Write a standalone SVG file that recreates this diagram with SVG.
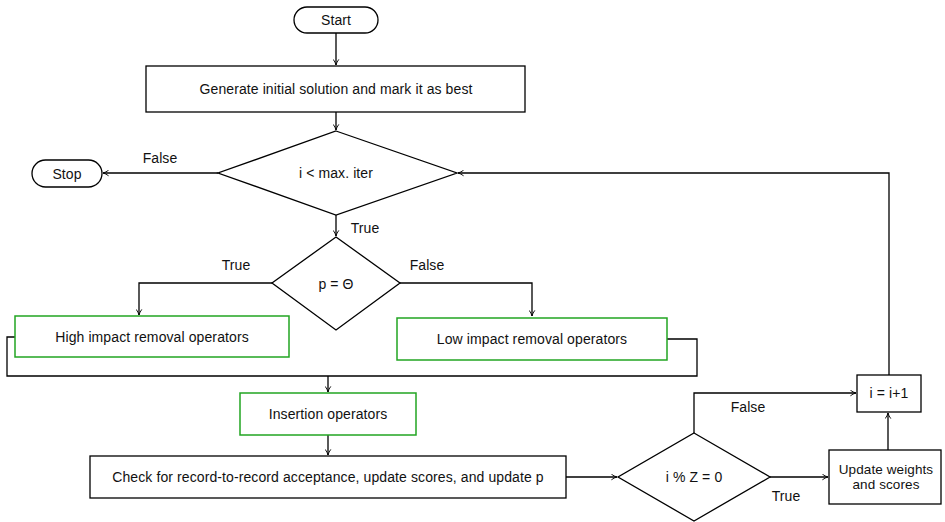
<svg xmlns="http://www.w3.org/2000/svg" width="945" height="522" viewBox="0 0 945 522">
<style>
text{font-family:"Liberation Sans","DejaVu Sans",sans-serif;font-size:14px;letter-spacing:0.1px;fill:#111;text-anchor:middle;dominant-baseline:central}
.n{fill:#fff;stroke:#000;stroke-width:1.3}
.g{fill:#fff;stroke:#22a522;stroke-width:1.5}
.c{fill:none;stroke:#000;stroke-width:1.3}
</style>
<defs>
<marker id="a" viewBox="0 0 10 10" refX="9" refY="5" markerWidth="7" markerHeight="7" markerUnits="userSpaceOnUse" orient="auto">
<path d="M1,1 Q5,4 9,5 Q5,6 1,9" fill="none" stroke="#000" stroke-width="1.3"/>
</marker>
</defs>
<g id="connectors">
<path class="c" d="M336,33 V65" marker-end="url(#a)"/>
<path class="c" d="M336,112 V130" marker-end="url(#a)"/>
<path class="c" d="M218,173 H103" marker-end="url(#a)"/>
<path class="c" d="M889,375 V173 H458" marker-end="url(#a)"/>
<path class="c" d="M336,215 V236" marker-end="url(#a)"/>
<path class="c" d="M272,283 H139 V315" marker-end="url(#a)"/>
<path class="c" d="M400,283 H532 V316" marker-end="url(#a)"/>
<path class="c" d="M15,337 H7 V376 H697 V339 H667"/>
<path class="c" d="M328,376 V392" marker-end="url(#a)"/>
<path class="c" d="M328,435 V455" marker-end="url(#a)"/>
<path class="c" d="M566,477 H617" marker-end="url(#a)"/>
<path class="c" d="M770,477 H828" marker-end="url(#a)"/>
<path class="c" d="M888,450 V413" marker-end="url(#a)"/>
<path class="c" d="M694,433 V393 H856" marker-end="url(#a)"/>
<text x="160" y="158">False</text>
<text x="365" y="228">True</text>
<text x="236" y="265">True</text>
<text x="427" y="265">False</text>
<text x="786" y="496">True</text>
<text x="748" y="407">False</text>
</g>
<g id="start"><rect class="n" x="294" y="7" width="84" height="26" rx="13"/><text x="336" y="20">Start</text></g>
<g id="generate"><rect class="n" x="146" y="66" width="379" height="46"/><text x="336" y="89">Generate initial solution and mark it as best</text></g>
<g id="cond-iter"><polygon class="n" points="336,131 457,173 336,215 218,173"/><text x="336" y="173">i &lt; max. iter</text></g>
<g id="stop"><rect class="n" x="32" y="160" width="70" height="27" rx="13.5"/><text x="67" y="174">Stop</text></g>
<g id="cond-p"><polygon class="n" points="336,237 400,283 336,330 272,283"/><text x="336" y="284">p = Θ</text></g>
<g id="high"><rect class="g" x="15" y="316" width="274" height="41"/><text x="152" y="337">High impact removal operators</text></g>
<g id="low"><rect class="g" x="397" y="318" width="270" height="42"/><text x="532" y="339">Low impact removal operators</text></g>
<g id="insertion"><rect class="g" x="240" y="393" width="176" height="42"/><text x="328" y="414">Insertion operators</text></g>
<g id="check"><rect class="n" x="90" y="456" width="476" height="42"/><text x="328" y="477">Check for record-to-record acceptance, update scores, and update p</text></g>
<g id="cond-z"><polygon class="n" points="694,433 770,477 694,521 618,477"/><text x="694" y="477">i % Z = 0</text></g>
<g id="update"><rect class="n" x="829" y="450" width="112" height="54"/><text x="886" y="469" style="font-size:13.5px">Update weights</text><text x="886" y="484" style="font-size:13.5px">and scores</text></g>
<g id="incr"><rect class="n" x="857" y="375" width="64" height="37"/><text x="889" y="393">i = i+1</text></g>
</svg>
